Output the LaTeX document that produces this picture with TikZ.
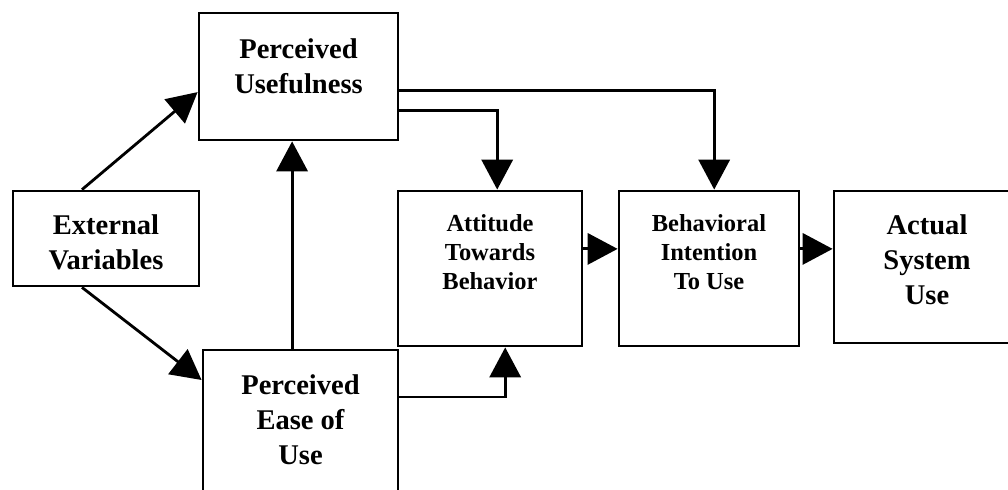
\documentclass[tikz,border=0pt]{standalone}
\usepackage{fontspec}
\setmainfont{Liberation Serif}
\usepackage{tikz}
\usetikzlibrary{positioning}
\usetikzlibrary{arrows.meta,calc}

\begin{document}
\begin{tikzpicture}[
  box/.style={draw=black,line width=2pt,minimum width=#1},
  bigtxt/.style={align=center,font=\fontsize{20.3}{24.9}\selectfont\bfseries},
  smalltxt/.style={align=center,font=\fontsize{17.4}{20.6}\selectfont\bfseries},
  arr/.style={line width=2pt,-{Triangle[length=0.75cm,width=0.78cm]}}]
\useasboundingbox[fill=white] (0,0) rectangle (25.2,12.225);
\clip (0,0) rectangle (25.2,12.225);
% boxes
\node[box=4.975cm,minimum height=3.175cm] (pu) at (7.4625,10.3125) {};
\node[box=4.65cm,minimum height=2.375cm] (ev) at (2.65,6.2625) {};
\node[box=4.875cm,minimum height=3.55cm] (peu) at (7.5125,1.7) {};
\node[box=4.6cm,minimum height=3.875cm] (atb) at (12.25,5.5125) {};
\node[box=4.5cm,minimum height=3.875cm] (bi) at (17.725,5.5125) {};
\node[box=4.65cm,minimum height=3.8cm] (asu) at (23.175,5.55) {};
% texts
\node[bigtxt] (pu-t) at (7.4625,10.575) {Perceived\\Usefulness};
\node[bigtxt] (ev-t) at (2.65,6.1625) {External\\Variables};
\node[bigtxt] (peu-t) at (7.5125,1.725) {Perceived\\Ease of\\Use};
\node[smalltxt] (atb-t) at (12.25,5.9125) {Attitude\\Towards\\Behavior};
\node[smalltxt] (bi-t) at (17.725,5.9125) {Behavioral\\Intention\\To Use};
\node[bigtxt] (asu-t) at (23.175,5.725) {Actual\\System\\Use};
% arrows
\draw[arr] ([xshift=-0.6cm]ev.north) -- ([yshift=-0.39cm]pu.west);
\draw[arr] ([xshift=-0.6cm]ev.south) -- ([yshift=1.025cm]peu.west);
\draw[arr] ([xshift=-0.21cm]peu.north) -- ([xshift=-0.21cm]peu.north |- pu.south);
\draw[arr] ([yshift=-0.84cm]pu.east) -| ([xshift=0.18cm]atb.north);
\draw[arr] ([yshift=-0.34cm]pu.east) -| ([xshift=0.13cm]bi.north);
\draw[arr] ([yshift=0.6cm]peu.east) -| ([xshift=0.38cm]atb.south);
\draw[arr] ([yshift=0.49cm]atb.east) -- ([yshift=0.49cm]atb.east -| bi.west);
\draw[arr] ([yshift=0.49cm]bi.east) -- ([yshift=0.49cm]bi.east -| asu.west);
\end{tikzpicture}
\end{document}
